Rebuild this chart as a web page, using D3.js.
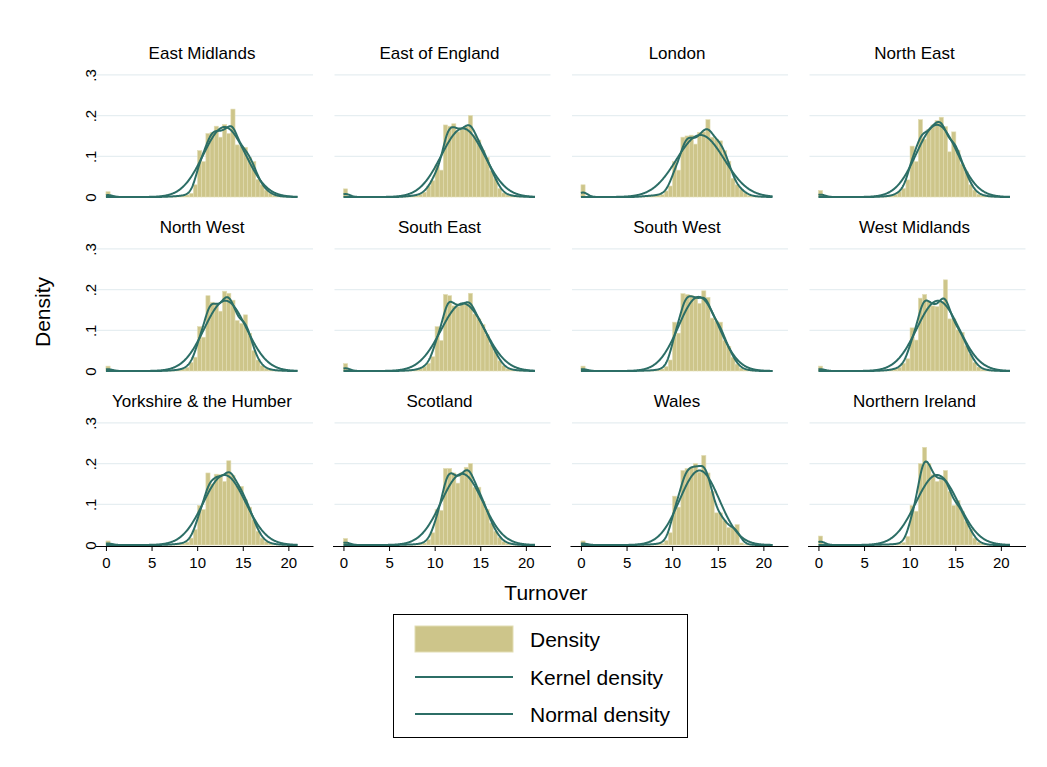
<!DOCTYPE html>
<html><head><meta charset="utf-8">
<script src="https://cdn.jsdelivr.net/npm/d3@7"></script>
<style>body{margin:0;background:#fff}svg{display:block;font-family:Arial,"Liberation Sans",sans-serif}</style>
</head><body><svg id="c" width="1047" height="767"></svg>
<script>
// ---- data ----
const regions = ["East Midlands","East of England","London","North East","North West","South East","South West","West Midlands","Yorkshire & the Humber","Scotland","Wales","Northern Ireland"];
const xTicks = [0,5,10,15,20];
const yTicks = [0,0.1,0.2,0.3];
const yTickLabels = ["0",".1",".2",".3"];
const binCount = 46;          // histogram bins over [0, 21]
const dataMax = 21;
const firstBin = 14;          // arrays below start at bin 14
const zeroBar = [0.013,0.02,0.03,0.016,0.012,0.018,0.012,0.012,0.01,0.016,0.01,0.022];
const emBars   = [0.001,0.001,0.002,0.002,0.004,0.005,0.009,0.03,0.114,0.087,0.156,0.159,0.174,0.147,0.178,0.156,0.216,0.128,0.125,0.122,0.097,0.087,0.043,0.03,0.017,0.009,0.004,0.002,0.001,0.001];
const eoeBars  = [0.001,0.002,0.003,0.004,0.007,0.012,0.027,0.04,0.079,0.066,0.177,0.174,0.18,0.16,0.166,0.173,0.2,0.152,0.14,0.115,0.097,0.065,0.046,0.021,0.01,0.005,0.003,0.002,0.001,0.001];
const lonBars  = [0.002,0.002,0.003,0.004,0.005,0.006,0.015,0.027,0.087,0.066,0.147,0.15,0.152,0.13,0.159,0.16,0.19,0.147,0.142,0.138,0.114,0.088,0.046,0.03,0.019,0.01,0.004,0.002,0.001,0.001];
const neBars   = [0.001,0.001,0.002,0.003,0.006,0.013,0.021,0.042,0.125,0.087,0.19,0.142,0.166,0.177,0.188,0.196,0.173,0.111,0.16,0.115,0.081,0.062,0.03,0.017,0.007,0.004,0.002,0.001,0.001,0];
const nwBars   = [0.001,0.001,0.002,0.003,0.005,0.009,0.021,0.034,0.109,0.083,0.185,0.169,0.166,0.147,0.196,0.191,0.174,0.124,0.117,0.138,0.093,0.05,0.027,0.013,0.006,0.003,0.002,0.001,0.001,0];
const seBars   = [0.001,0.001,0.002,0.003,0.006,0.011,0.019,0.035,0.109,0.075,0.188,0.185,0.16,0.158,0.163,0.166,0.191,0.14,0.128,0.114,0.089,0.065,0.048,0.025,0.013,0.005,0.003,0.002,0.001,0.001];
const swBars   = [0.001,0.001,0.001,0.002,0.003,0.005,0.011,0.027,0.12,0.093,0.19,0.188,0.185,0.183,0.166,0.197,0.181,0.13,0.122,0.12,0.075,0.06,0.034,0.017,0.007,0.003,0.002,0.001,0,0];
const wmBars   = [0.001,0.001,0.002,0.003,0.005,0.009,0.019,0.03,0.106,0.076,0.179,0.188,0.171,0.16,0.158,0.169,0.224,0.128,0.128,0.101,0.095,0.062,0.042,0.021,0.01,0.004,0.002,0.001,0.001,0];
const yhBars   = [0.001,0.001,0.002,0.003,0.004,0.007,0.017,0.038,0.097,0.087,0.177,0.15,0.174,0.173,0.156,0.207,0.171,0.147,0.144,0.111,0.093,0.062,0.034,0.017,0.008,0.004,0.002,0.001,0.001,0];
const scoBars  = [0.001,0.001,0.001,0.002,0.003,0.005,0.013,0.03,0.087,0.085,0.188,0.188,0.177,0.152,0.179,0.191,0.2,0.142,0.142,0.107,0.087,0.054,0.034,0.019,0.008,0.004,0.002,0.001,0,0];
const walBars  = [0.001,0.001,0.001,0.002,0.003,0.004,0.011,0.03,0.12,0.093,0.183,0.188,0.191,0.2,0.179,0.22,0.177,0.132,0.079,0.079,0.06,0.043,0.042,0.05,0.005,0.002,0.001,0,0,0];
const niBars   = [0.001,0.001,0.001,0.002,0.002,0.003,0.006,0.021,0.097,0.083,0.2,0.24,0.2,0.173,0.156,0.16,0.183,0.132,0.097,0.109,0.083,0.058,0.038,0.017,0.007,0.003,0.001,0,0,0];
const normalMean = [13.0,13.1,13.1,13.0,13.1,13.1,12.9,13.1,13.0,13.0,13.0,13.0];
const normalSD   = [2.32,2.37,2.62,2.25,2.31,2.40,2.19,2.31,2.32,2.28,2.18,2.32];
const kernelBandwidth = 0.5;
const legendLabels = ["Density","Kernel density","Normal density"];

const barSets = [emBars,eoeBars,lonBars,neBars,nwBars,seBars,swBars,wmBars,yhBars,scoBars,walBars,niBars];

// ---- layout ----
const colors = {bar:"#cdc58a", barEdge:"#e2ddb4", line:"#2c6e66", grid:"#e6eef1", text:"#000"};
const colLeft = [95, 332.5, 570, 807.5];
const plotW = 218;
const rowZero = [197, 371, 545];
const yPxPerUnit = 407;

const svg = d3.select("#c");
svg.append("rect").attr("width",1047).attr("height",767).attr("fill","#fff");

const binW = dataMax / binCount;
const gridX = d3.range(0, dataMax + 1e-9, 0.05);

regions.forEach((name, i) => {
  const col = i % 4, row = Math.floor(i / 4);
  const x = d3.scaleLinear().domain([-1.2, 22.7]).range([colLeft[col], colLeft[col] + plotW]);
  const y = d3.scaleLinear().domain([0, 0.3]).range([rowZero[row], rowZero[row] - 0.3 * yPxPerUnit]);
  const g = svg.append("g");

  // gridlines
  g.selectAll("line.grid").data(yTicks.slice(1)).join("line")
    .attr("x1", colLeft[col] + 2).attr("x2", colLeft[col] + plotW)
    .attr("y1", d => y(d)).attr("y2", d => y(d))
    .attr("stroke", colors.grid).attr("stroke-width", 1.2);

  // bars
  const bars = [{b:0, h:zeroBar[i]}].concat(barSets[i].map((h, k) => ({b:firstBin + k, h})));
  g.selectAll("rect.bar").data(bars.filter(d => d.h > 0)).join("rect")
    .attr("x", d => x(d.b * binW)).attr("width", d => x((d.b + 1) * binW) - x(d.b * binW))
    .attr("y", d => y(d.h)).attr("height", d => y(0) - y(d.h))
    .attr("fill", colors.bar).attr("stroke", colors.barEdge).attr("stroke-width", 0.6);

  // kernel density from the histogram
  const kd = gridX.map(xx => {
    let s = 0;
    bars.forEach(d => {
      const c = (d.b + 0.5) * binW;
      const u = (xx - c) / kernelBandwidth;
      s += d.h * binW * Math.exp(-0.5 * u * u) / (kernelBandwidth * Math.sqrt(2 * Math.PI));
    });
    return [xx, s];
  });
  const nd = gridX.map(xx => {
    const u = (xx - normalMean[i]) / normalSD[i];
    return [xx, Math.exp(-0.5 * u * u) / (normalSD[i] * Math.sqrt(2 * Math.PI))];
  });
  const line = d3.line().x(d => x(d[0])).y(d => y(d[1]));
  g.append("path").attr("d", line(kd)).attr("fill","none").attr("stroke",colors.line).attr("stroke-width",2);
  g.append("path").attr("d", line(nd)).attr("fill","none").attr("stroke",colors.line).attr("stroke-width",2);

  // title
  g.append("text").attr("x", colLeft[col] + plotW / 2 - 2).attr("y", rowZero[row] - 138)
    .attr("text-anchor","middle").attr("font-size",17).attr("fill",colors.text).text(name);

  // y axis labels on left column (no axis line)
  if (col === 0) {
    const ya = d3.axisLeft(y).tickValues(yTicks).tickFormat((d, k) => yTickLabels[k]).tickSize(0).tickSizeOuter(0);
    const ag = g.append("g").attr("transform", `translate(${colLeft[col]},0)`).call(ya);
    ag.select(".domain").remove();
    ag.selectAll(".tick line").remove();
    ag.selectAll(".tick text")
      .attr("x", 0).attr("y", 0).attr("dy", 0)
      .attr("text-anchor", "middle")
      .attr("transform", "translate(1,0) rotate(-90)")
      .attr("font-size", 15).attr("fill", colors.text);
  }
  // x axis on bottom row
  if (row === 2) {
    const xa = d3.axisBottom(x).tickValues(xTicks).tickSize(5).tickSizeOuter(0);
    const ag = g.append("g").attr("transform", `translate(0,${rowZero[row] + 1})`).call(xa);
    ag.select(".domain").attr("stroke","#000");
    ag.selectAll("text").attr("font-size",15).attr("fill",colors.text).attr("dy","0.95em");
  }
});

// axis titles
svg.append("text").attr("x", 546).attr("y", 600).attr("text-anchor","middle").attr("font-size",21).text("Turnover");
svg.append("text").attr("transform","translate(50,312) rotate(-90)").attr("text-anchor","middle").attr("font-size",21).text("Density");

// legend
const lg = svg.append("g");
lg.append("rect").attr("x",393.5).attr("y",614.5).attr("width",294).attr("height",123).attr("fill","#fff").attr("stroke","#000").attr("stroke-width",1);
const ly = [639, 677, 714];
lg.append("rect").attr("x",415).attr("y",626).attr("width",98).attr("height",26).attr("fill",colors.bar).attr("stroke",colors.barEdge);
[1,2].forEach(k => lg.append("line").attr("x1",415).attr("x2",513).attr("y1",ly[k]).attr("y2",ly[k]).attr("stroke",colors.line).attr("stroke-width",2));
legendLabels.forEach((t, k) => lg.append("text").attr("x",530).attr("y",ly[k] + 7.5).attr("font-size",21).text(t));
</script></body></html>
